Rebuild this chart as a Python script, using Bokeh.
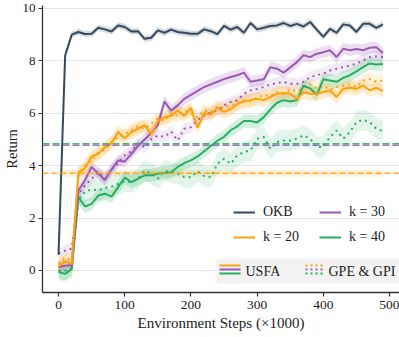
from bokeh.plotting import figure
from bokeh.models import Range1d, Legend, LegendItem, Span, FixedTicker
from bokeh.embed import file_html
from bokeh.resources import INLINE
from bokeh.core.properties import value
import numpy as np

# evaluation points (thousands of environment steps)
steps = list(range(0, 500, 10))

okb = [0.6, 8.2, 9.0, 9.1, 9.02, 9.03, 9.26, 9.2, 9.12, 9.35,
       9.29, 9.12, 9.13, 8.84, 8.88, 9.16, 9.07, 9.19, 9.1, 9.07,
       9.03, 9.03, 9.2, 9.13, 9.02, 9.33, 9.19, 9.29, 9.07, 9.44,
       9.2, 9.26, 9.33, 9.35, 9.44, 9.33, 9.41, 9.31, 9.48, 9.19,
       8.91, 9.22, 9.07, 9.39, 9.35, 9.1, 9.41, 9.41, 9.26, 9.39]

usfa_k20 = [0.15, 0.35, 0.25, 3.75, 3.9, 4.35, 4.45, 4.7, 4.85, 5.28,
            5.05, 5.28, 5.4, 5.55, 5.2, 5.7, 5.85, 5.9, 6.1, 5.9,
            6.2, 5.45, 6.0, 5.95, 6.2, 6.05, 6.15, 6.35, 6.45, 6.5,
            6.55, 6.5, 6.62, 6.74, 6.77, 6.74, 6.55, 6.8, 6.74, 6.74,
            6.81, 6.87, 6.62, 6.93, 6.97, 6.93, 7.06, 6.87, 6.97, 6.84]
gpe_k20 = [0.25, 0.5, 0.35, 3.6, 4.0, 4.2, 4.5, 4.6, 4.9, 5.1,
           5.2, 5.35, 5.5, 5.4, 5.6, 5.8, 5.7, 6.0, 5.9, 6.1,
           6.0, 5.85, 6.1, 6.05, 6.25, 6.2, 6.3, 6.35, 6.5, 6.45,
           6.6, 6.7, 6.65, 6.8, 6.75, 6.9, 6.85, 6.95, 7.1, 6.95,
           7.05, 6.9, 7.0, 7.05, 7.1, 7.0, 7.25, 7.3, 7.2, 7.25]

usfa_k30 = [0.13, 0.18, 0.2, 3.05, 3.45, 3.95, 3.7, 3.45, 3.85, 4.2,
            4.15, 4.45, 4.75, 5.0, 5.25, 5.55, 6.45, 6.1, 6.3, 6.55,
            6.7, 6.85, 7.0, 7.1, 7.2, 7.3, 7.38, 7.45, 7.55, 7.2,
            7.25, 7.3, 7.75, 7.7, 7.55, 7.75, 7.95, 8.21, 8.14, 8.27,
            8.33, 8.4, 8.14, 8.46, 8.4, 8.45, 8.4, 8.5, 8.52, 8.3]
gpe_k30 = [0.64, 0.76, 0.83, 2.9, 3.25, 3.5, 3.75, 3.5, 3.85, 4.1,
           4.4, 4.55, 4.85, 4.7, 5.0, 5.15, 5.1, 5.3, 4.96, 5.41,
           5.47, 5.75, 5.92, 6.04, 6.11, 6.3, 6.43, 6.49, 6.74, 6.87,
           6.93, 7.0, 7.1, 7.15, 7.19, 7.12, 7.12, 7.19, 7.38, 7.45,
           7.51, 7.63, 7.7, 7.76, 7.82, 7.89, 8.02, 8.14, 8.17, 8.14]

usfa_k40 = [-0.06, -0.13, 0.06, 2.8, 2.44, 2.54, 2.86, 2.93, 2.82, 3.18,
            3.54, 3.37, 3.5, 3.63, 3.63, 3.7, 3.72, 3.75, 3.95, 4.1,
            4.2, 4.35, 4.55, 4.75, 4.95, 5.1, 5.35, 5.5, 5.7, 5.7,
            5.65, 5.85, 6.15, 6.4, 6.5, 6.45, 6.5, 7.05, 6.95, 6.7,
            7.3, 7.25, 7.2, 7.35, 7.45, 7.6, 7.76, 7.9, 7.86, 7.88]
gpe_k40 = [-0.01, 0.0, 0.1, 2.7, 3.0, 3.1, 3.05, 3.15, 3.2, 3.3,
           3.4, 3.37, 3.5, 3.8, 3.7, 3.5, 3.8, 3.75, 3.69, 3.56,
           3.56, 3.79, 3.6, 3.56, 4.07, 4.26, 4.07, 4.39, 4.52, 4.58,
           5.02, 5.09, 4.64, 4.9, 4.96, 4.96, 5.03, 5.15, 5.03, 4.7,
           4.73, 5.09, 5.34, 5.03, 5.28, 5.66, 5.75, 5.66, 5.41, 5.32]

# half-width of the shaded spread around each curve
spread = {"okb": 0.12, "usfa_k20": 0.25, "gpe_k20": 0.25, "usfa_k30": 0.22,
          "gpe_k30": 0.22, "usfa_k40": 0.25, "gpe_k40": 0.4}

# horizontal reference levels
ref_k20, ref_k20_spread = 3.71, 0.13
ref_k30 = 4.78
ref_k40 = 4.84

NAVY, ORANGE, PURPLE, GREEN = "#34495e", "#ffa00a", "#9b59b6", "#27ae60"
FONT = "Liberation Serif"
TEXT = "#222222"

W, H = 399, 337
L, R, T, B = 42, 0, 5, 45
X0, X1 = -24.2, 515.0
Y0, Y1 = -0.84, 10.11

p = figure(width=W, height=H, x_range=Range1d(X0, X1), y_range=Range1d(Y0, Y1),
           output_backend="svg", toolbar_location=None,
           min_border_left=L, min_border_right=R, min_border_top=T, min_border_bottom=B)
p.outline_line_color = None
p.xgrid.grid_line_color = None
p.ygrid.grid_line_color = "#e4e4e4"
p.ygrid.grid_line_width = 1.2
p.xaxis.ticker = FixedTicker(ticks=[0, 100, 200, 300, 400, 500])
p.yaxis.ticker = FixedTicker(ticks=[0, 2, 4, 6, 8, 10])
for ax in (p.xaxis[0], p.yaxis[0]):
    ax.axis_line_color = "#333333"
    ax.axis_line_width = 1.3
    ax.major_tick_line_color = "#333333"
    ax.major_tick_line_width = 1.2
    ax.major_tick_out = 4
    ax.major_tick_in = 0
    ax.minor_tick_line_color = None
    ax.major_label_text_font = FONT
    ax.major_label_text_color = TEXT
    ax.axis_label_text_font = FONT
    ax.axis_label_text_font_style = "normal"
    ax.axis_label_text_color = TEXT
p.xaxis.major_label_text_font_size = "13.5px"
p.yaxis.major_label_text_font_size = "13px"
p.xaxis.axis_label_text_font_size = "15px"
p.yaxis.axis_label_text_font_size = "14.5px"
p.xaxis.axis_label = "Environment Steps (×1000)"
p.yaxis.axis_label = "Return"
p.xaxis.major_label_standoff = 4
p.yaxis.major_label_standoff = 3
p.xaxis.axis_label_standoff = 3
p.yaxis.axis_label_standoff = 0

# reference level for k = 20 with its spread
p.varea(x=[steps[0], steps[-1]], y1=[ref_k20 - ref_k20_spread] * 2,
        y2=[ref_k20 + ref_k20_spread] * 2, fill_color=ORANGE, fill_alpha=0.15)

series = [
    ("gpe_k40", gpe_k40, GREEN, True),
    ("gpe_k30", gpe_k30, PURPLE, True),
    ("gpe_k20", gpe_k20, ORANGE, True),
    ("usfa_k40", usfa_k40, GREEN, False),
    ("usfa_k30", usfa_k30, PURPLE, False),
    ("usfa_k20", usfa_k20, ORANGE, False),
    ("okb", okb, NAVY, False),
]

for name, vals, col, dotted in series:
    v = np.array(vals)
    s = spread[name]
    p.varea(x=steps, y1=v - s, y2=v + s, fill_color=col, fill_alpha=0.13 if dotted else 0.2)

renderers = {}
for name, vals, col, dotted in series:
    renderers[name] = p.line(steps, vals, line_color=col, line_width=2,
                             line_dash="2 4" if dotted else "solid")

for lvl, col, dash, wdt in ((ref_k30, PURPLE, "7 3", 1.5), (ref_k40, GREEN, "7 3", 1.5),
                            (ref_k20, ORANGE, "6 3", 1.4)):
    p.add_layout(Span(location=lvl, dimension="width", line_color=col,
                      line_dash=dash, line_width=wdt, line_alpha=0.85))

legend = Legend(items=[LegendItem(label="OKB", renderers=[renderers["okb"]]),
                       LegendItem(label="k = 20", renderers=[renderers["usfa_k20"]]),
                       LegendItem(label="k = 30", renderers=[renderers["usfa_k30"]]),
                       LegendItem(label="k = 40", renderers=[renderers["usfa_k40"]])],
                ncols=2, location=(191, 47), padding=0, margin=0, spacing=9,
                glyph_width=22, glyph_height=16, label_height=16, label_standoff=8,
                label_width=47, border_line_color=None, background_fill_alpha=0,
                label_text_font=FONT, label_text_font_size="14px", label_text_color=TEXT)
p.add_layout(legend)


# method key: pixel positions inside the frame converted to data space
def fx(px):
    return X0 + (px - L) * (X1 - X0) / (W - L - R)


def fy(py):
    return Y1 - (py - T) * (Y1 - Y0) / (H - T - B)


p.quad(left=fx(216), right=fx(399), top=fy(258), bottom=fy(283),
       fill_color="#f2f2f2", line_color=None)
key_cols = [ORANGE, PURPLE, GREEN]
key_rows = [fy(265), fy(269), fy(273)]
p.segment(x0=[fx(219)] * 3, x1=[fx(240)] * 3, y0=key_rows, y1=key_rows,
          line_color=key_cols, line_width=2)
p.segment(x0=[fx(305)] * 3, x1=[fx(322)] * 3, y0=key_rows, y1=key_rows,
          line_color=key_cols, line_width=2, line_dash="2 3")
p.text(x=[fx(245), fx(328)], y=[fy(270.5)] * 2, text=["USFA", "GPE & GPI"],
       text_font=value(FONT), text_font_size="14px", text_color=TEXT,
       text_baseline="middle", text_align="left")

open("out.html", "w").write(file_html(p, INLINE))
